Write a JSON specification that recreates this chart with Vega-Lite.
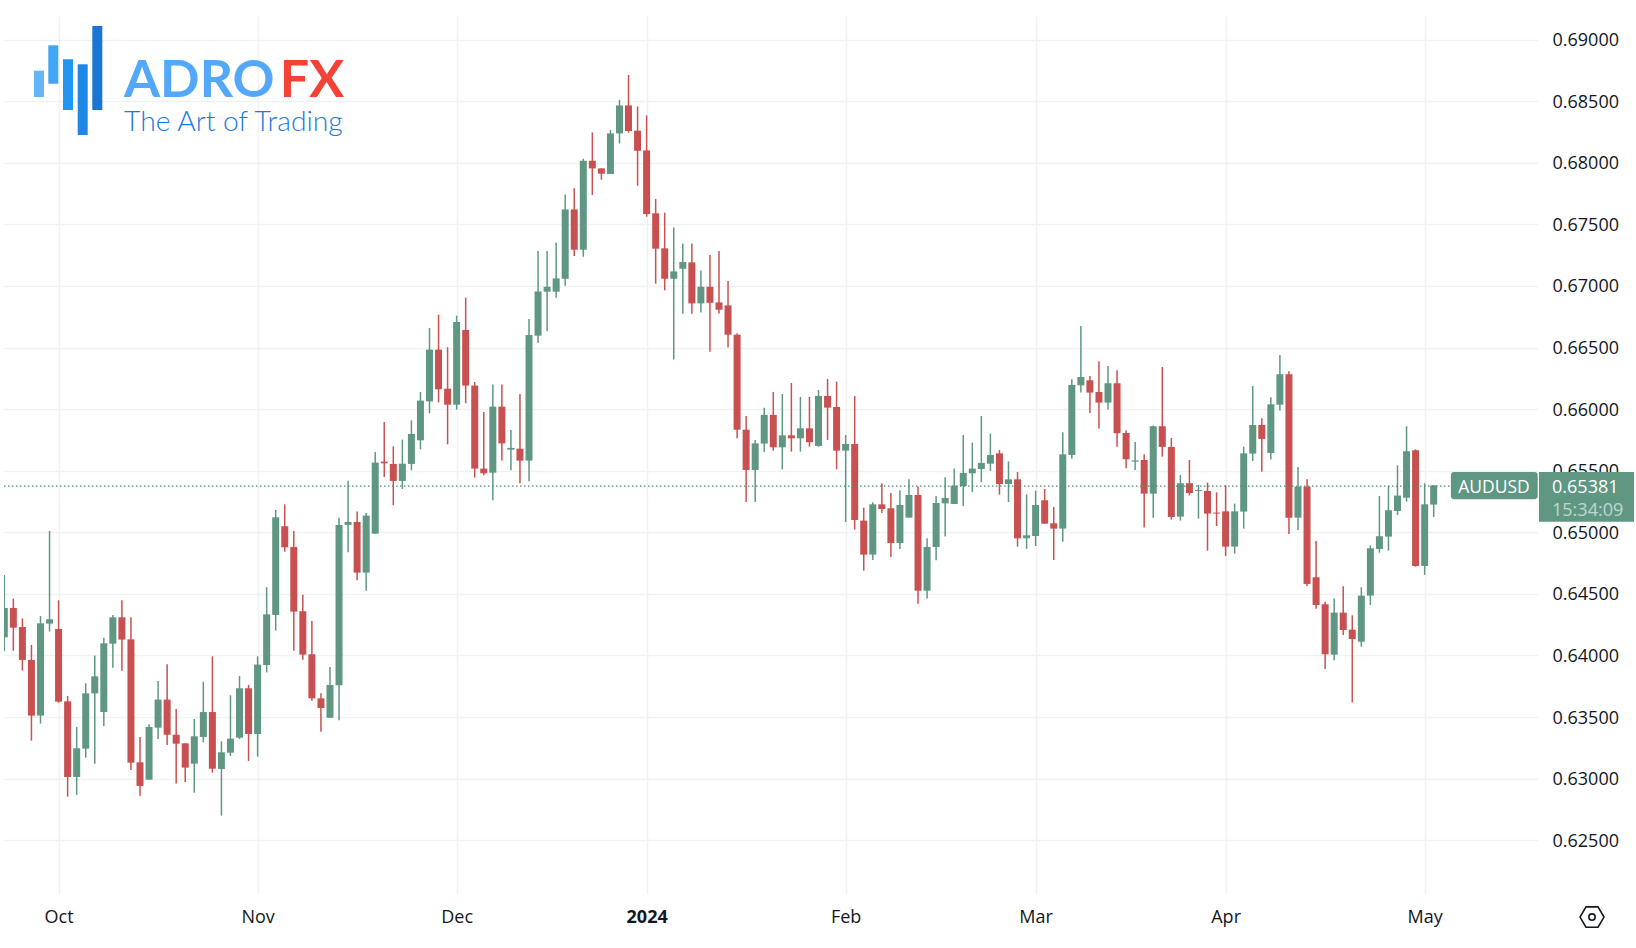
{"$schema":"https://vega.github.io/schema/vega-lite/v6.json","width":1534,"height":878,"autosize":{"type":"none"},"padding":{"left":4,"top":16,"right":98,"bottom":54},"background":"#ffffff","config":{"view":{"stroke":null},"axis":{"title":null,"domain":false,"ticks":false,"gridColor":"#f0f1f3","gridWidth":1.4,"labelFont":"Open Sans","labelFontSize":18,"labelColor":"#131722"}},"datasets":{"candles":[
{"i":0,"date":"2023-09-22","o":0.64148,"h":0.64654,"l":0.64034,"c":0.64386},
{"i":1,"date":"2023-09-25","o":0.64386,"h":0.64462,"l":0.64039,"c":0.64226},
{"i":2,"date":"2023-09-26","o":0.64231,"h":0.64302,"l":0.63877,"c":0.63964},
{"i":3,"date":"2023-09-27","o":0.63964,"h":0.64085,"l":0.63309,"c":0.63512},
{"i":4,"date":"2023-09-28","o":0.63512,"h":0.64321,"l":0.63447,"c":0.64261},
{"i":5,"date":"2023-09-29","o":0.64259,"h":0.65011,"l":0.64194,"c":0.64294},
{"i":6,"date":"2023-10-02","o":0.64215,"h":0.64448,"l":0.63617,"c":0.63625},
{"i":7,"date":"2023-10-03","o":0.63628,"h":0.63671,"l":0.62854,"c":0.63014},
{"i":8,"date":"2023-10-04","o":0.63014,"h":0.6342,"l":0.62868,"c":0.63247},
{"i":9,"date":"2023-10-05","o":0.63244,"h":0.63774,"l":0.63171,"c":0.63693},
{"i":10,"date":"2023-10-06","o":0.63693,"h":0.63999,"l":0.63122,"c":0.63831},
{"i":11,"date":"2023-10-09","o":0.63541,"h":0.64145,"l":0.63428,"c":0.64099},
{"i":12,"date":"2023-10-10","o":0.64096,"h":0.64329,"l":0.63901,"c":0.6431},
{"i":13,"date":"2023-10-11","o":0.6431,"h":0.64448,"l":0.63877,"c":0.64129},
{"i":14,"date":"2023-10-12","o":0.64131,"h":0.6431,"l":0.63071,"c":0.6313},
{"i":15,"date":"2023-10-13","o":0.63133,"h":0.63339,"l":0.62862,"c":0.62941},
{"i":16,"date":"2023-10-16","o":0.62992,"h":0.63441,"l":0.62992,"c":0.6342},
{"i":17,"date":"2023-10-17","o":0.63414,"h":0.63793,"l":0.63322,"c":0.63642},
{"i":18,"date":"2023-10-18","o":0.63642,"h":0.63928,"l":0.63274,"c":0.63357},
{"i":19,"date":"2023-10-19","o":0.63357,"h":0.63566,"l":0.6296,"c":0.63284},
{"i":20,"date":"2023-10-20","o":0.63287,"h":0.63287,"l":0.62973,"c":0.6309},
{"i":21,"date":"2023-10-23","o":0.63122,"h":0.63485,"l":0.62887,"c":0.63344},
{"i":22,"date":"2023-10-24","o":0.63339,"h":0.63788,"l":0.63295,"c":0.63541},
{"i":23,"date":"2023-10-25","o":0.63541,"h":0.63993,"l":0.63049,"c":0.63081},
{"i":24,"date":"2023-10-26","o":0.63079,"h":0.63303,"l":0.627,"c":0.63214},
{"i":25,"date":"2023-10-27","o":0.63211,"h":0.63677,"l":0.63184,"c":0.63325},
{"i":26,"date":"2023-10-30","o":0.63333,"h":0.63834,"l":0.63322,"c":0.63734},
{"i":27,"date":"2023-10-31","o":0.63734,"h":0.63761,"l":0.63144,"c":0.63363},
{"i":28,"date":"2023-11-01","o":0.63363,"h":0.63993,"l":0.63179,"c":0.63926},
{"i":29,"date":"2023-11-02","o":0.63923,"h":0.64554,"l":0.63863,"c":0.64334},
{"i":30,"date":"2023-11-03","o":0.64329,"h":0.65181,"l":0.64202,"c":0.65122},
{"i":31,"date":"2023-11-06","o":0.65049,"h":0.65227,"l":0.64843,"c":0.64878},
{"i":32,"date":"2023-11-07","o":0.64881,"h":0.65011,"l":0.64039,"c":0.64356},
{"i":33,"date":"2023-11-08","o":0.64359,"h":0.64494,"l":0.63966,"c":0.64007},
{"i":34,"date":"2023-11-09","o":0.6401,"h":0.6428,"l":0.63633,"c":0.63652},
{"i":35,"date":"2023-11-10","o":0.63652,"h":0.63693,"l":0.63382,"c":0.63574},
{"i":36,"date":"2023-11-13","o":0.63495,"h":0.63907,"l":0.63495,"c":0.63761},
{"i":37,"date":"2023-11-14","o":0.63758,"h":0.65119,"l":0.63474,"c":0.6506},
{"i":38,"date":"2023-11-15","o":0.6506,"h":0.65419,"l":0.64838,"c":0.65084},
{"i":39,"date":"2023-11-16","o":0.65084,"h":0.65168,"l":0.6461,"c":0.64673},
{"i":40,"date":"2023-11-17","o":0.64673,"h":0.65157,"l":0.64526,"c":0.65135},
{"i":41,"date":"2023-11-20","o":0.64989,"h":0.65652,"l":0.64989,"c":0.65566},
{"i":42,"date":"2023-11-21","o":0.65574,"h":0.65896,"l":0.65449,"c":0.6556},
{"i":43,"date":"2023-11-22","o":0.65555,"h":0.65698,"l":0.65219,"c":0.65417},
{"i":44,"date":"2023-11-23","o":0.65417,"h":0.65752,"l":0.65352,"c":0.65557},
{"i":45,"date":"2023-11-24","o":0.65555,"h":0.65909,"l":0.65503,"c":0.65798},
{"i":46,"date":"2023-11-27","o":0.65747,"h":0.66139,"l":0.65674,"c":0.66069},
{"i":47,"date":"2023-11-28","o":0.66063,"h":0.66659,"l":0.65966,"c":0.66483},
{"i":48,"date":"2023-11-29","o":0.66483,"h":0.66767,"l":0.66055,"c":0.66161},
{"i":49,"date":"2023-11-30","o":0.66166,"h":0.66502,"l":0.65714,"c":0.66036},
{"i":50,"date":"2023-12-01","o":0.66036,"h":0.66759,"l":0.65996,"c":0.66707},
{"i":51,"date":"2023-12-04","o":0.66643,"h":0.66905,"l":0.66047,"c":0.66191},
{"i":52,"date":"2023-12-05","o":0.66191,"h":0.6622,"l":0.65444,"c":0.65517},
{"i":53,"date":"2023-12-06","o":0.65517,"h":0.65977,"l":0.65463,"c":0.65479},
{"i":54,"date":"2023-12-07","o":0.65484,"h":0.66199,"l":0.6526,"c":0.6602},
{"i":55,"date":"2023-12-08","o":0.6602,"h":0.66199,"l":0.65582,"c":0.65722},
{"i":56,"date":"2023-12-11","o":0.65671,"h":0.65831,"l":0.65503,"c":0.65685},
{"i":57,"date":"2023-12-12","o":0.65679,"h":0.66123,"l":0.65398,"c":0.65582},
{"i":58,"date":"2023-12-13","o":0.65582,"h":0.66732,"l":0.65414,"c":0.66602},
{"i":59,"date":"2023-12-14","o":0.66596,"h":0.67283,"l":0.66539,"c":0.66955},
{"i":60,"date":"2023-12-15","o":0.66953,"h":0.67283,"l":0.66633,"c":0.66993},
{"i":61,"date":"2023-12-18","o":0.66953,"h":0.67351,"l":0.66904,"c":0.67061},
{"i":62,"date":"2023-12-19","o":0.67058,"h":0.67743,"l":0.67001,"c":0.67621},
{"i":63,"date":"2023-12-20","o":0.67621,"h":0.67792,"l":0.67242,"c":0.67294},
{"i":64,"date":"2023-12-21","o":0.67294,"h":0.68032,"l":0.67237,"c":0.68016},
{"i":65,"date":"2023-12-22","o":0.68016,"h":0.68246,"l":0.67738,"c":0.67954},
{"i":66,"date":"2023-12-25","o":0.67954,"h":0.67954,"l":0.67862,"c":0.67911},
{"i":67,"date":"2023-12-26","o":0.67908,"h":0.68265,"l":0.67908,"c":0.68238},
{"i":68,"date":"2023-12-27","o":0.68238,"h":0.68511,"l":0.68157,"c":0.68465},
{"i":69,"date":"2023-12-28","o":0.68465,"h":0.68712,"l":0.68244,"c":0.68257},
{"i":70,"date":"2023-12-29","o":0.6826,"h":0.68457,"l":0.67813,"c":0.68097},
{"i":71,"date":"2024-01-02","o":0.681,"h":0.68384,"l":0.67562,"c":0.67583},
{"i":72,"date":"2024-01-03","o":0.67589,"h":0.67705,"l":0.67018,"c":0.67302},
{"i":73,"date":"2024-01-04","o":0.67305,"h":0.67594,"l":0.66964,"c":0.67058},
{"i":74,"date":"2024-01-05","o":0.67058,"h":0.67475,"l":0.66403,"c":0.67118},
{"i":75,"date":"2024-01-08","o":0.67139,"h":0.67345,"l":0.66774,"c":0.67194},
{"i":76,"date":"2024-01-09","o":0.67191,"h":0.67345,"l":0.66774,"c":0.66858},
{"i":77,"date":"2024-01-10","o":0.66858,"h":0.67126,"l":0.66785,"c":0.66993},
{"i":78,"date":"2024-01-11","o":0.66993,"h":0.6725,"l":0.66466,"c":0.66863},
{"i":79,"date":"2024-01-12","o":0.66866,"h":0.67283,"l":0.66777,"c":0.66807},
{"i":80,"date":"2024-01-15","o":0.66842,"h":0.67039,"l":0.66501,"c":0.66604},
{"i":81,"date":"2024-01-16","o":0.66604,"h":0.66615,"l":0.65763,"c":0.65833},
{"i":82,"date":"2024-01-17","o":0.65833,"h":0.65944,"l":0.65246,"c":0.65506},
{"i":83,"date":"2024-01-18","o":0.65506,"h":0.6575,"l":0.65246,"c":0.65722},
{"i":84,"date":"2024-01-19","o":0.6572,"h":0.66012,"l":0.65652,"c":0.65953},
{"i":85,"date":"2024-01-22","o":0.65953,"h":0.66139,"l":0.65663,"c":0.6569},
{"i":86,"date":"2024-01-23","o":0.6569,"h":0.66123,"l":0.65511,"c":0.65787},
{"i":87,"date":"2024-01-24","o":0.65787,"h":0.66212,"l":0.65655,"c":0.65763},
{"i":88,"date":"2024-01-25","o":0.65763,"h":0.66099,"l":0.65655,"c":0.65844},
{"i":89,"date":"2024-01-26","o":0.65844,"h":0.66099,"l":0.65695,"c":0.65731},
{"i":90,"date":"2024-01-29","o":0.65701,"h":0.66155,"l":0.65695,"c":0.66107},
{"i":91,"date":"2024-01-30","o":0.66107,"h":0.66245,"l":0.6575,"c":0.66012},
{"i":92,"date":"2024-01-31","o":0.66017,"h":0.66223,"l":0.65511,"c":0.65663},
{"i":93,"date":"2024-02-01","o":0.65663,"h":0.6579,"l":0.65084,"c":0.65717},
{"i":94,"date":"2024-02-02","o":0.65717,"h":0.66107,"l":0.65022,"c":0.651},
{"i":95,"date":"2024-02-05","o":0.65095,"h":0.652,"l":0.64689,"c":0.64819},
{"i":96,"date":"2024-02-06","o":0.64819,"h":0.65244,"l":0.64775,"c":0.65227},
{"i":97,"date":"2024-02-07","o":0.65227,"h":0.65398,"l":0.65157,"c":0.65189},
{"i":98,"date":"2024-02-08","o":0.65195,"h":0.65319,"l":0.648,"c":0.64913},
{"i":99,"date":"2024-02-09","o":0.64913,"h":0.65341,"l":0.64865,"c":0.65222},
{"i":100,"date":"2024-02-12","o":0.65119,"h":0.6543,"l":0.65119,"c":0.65303},
{"i":101,"date":"2024-02-13","o":0.65303,"h":0.65371,"l":0.64421,"c":0.64526},
{"i":102,"date":"2024-02-14","o":0.64526,"h":0.64951,"l":0.64462,"c":0.64881},
{"i":103,"date":"2024-02-15","o":0.64881,"h":0.65295,"l":0.64773,"c":0.65238},
{"i":104,"date":"2024-02-16","o":0.65235,"h":0.65446,"l":0.64965,"c":0.65279},
{"i":105,"date":"2024-02-19","o":0.6523,"h":0.65517,"l":0.6523,"c":0.65379},
{"i":106,"date":"2024-02-20","o":0.65376,"h":0.6579,"l":0.65214,"c":0.65482},
{"i":107,"date":"2024-02-21","o":0.65479,"h":0.65728,"l":0.65327,"c":0.65517},
{"i":108,"date":"2024-02-22","o":0.65514,"h":0.65944,"l":0.65406,"c":0.65563},
{"i":109,"date":"2024-02-23","o":0.65557,"h":0.65801,"l":0.65498,"c":0.65628},
{"i":110,"date":"2024-02-26","o":0.65641,"h":0.65668,"l":0.65306,"c":0.65392},
{"i":111,"date":"2024-02-27","o":0.65392,"h":0.65576,"l":0.65246,"c":0.6543},
{"i":112,"date":"2024-02-28","o":0.6543,"h":0.6549,"l":0.64884,"c":0.64951},
{"i":113,"date":"2024-02-29","o":0.64951,"h":0.65308,"l":0.64865,"c":0.64976},
{"i":114,"date":"2024-03-01","o":0.6497,"h":0.65338,"l":0.64889,"c":0.65222},
{"i":115,"date":"2024-03-04","o":0.6526,"h":0.65352,"l":0.6507,"c":0.6507},
{"i":116,"date":"2024-03-05","o":0.65073,"h":0.65206,"l":0.64775,"c":0.6503},
{"i":117,"date":"2024-03-06","o":0.6503,"h":0.65812,"l":0.64924,"c":0.65633},
{"i":118,"date":"2024-03-07","o":0.65628,"h":0.66242,"l":0.65598,"c":0.66196},
{"i":119,"date":"2024-03-08","o":0.66193,"h":0.66675,"l":0.66134,"c":0.66261},
{"i":120,"date":"2024-03-11","o":0.66234,"h":0.66269,"l":0.65969,"c":0.66134},
{"i":121,"date":"2024-03-12","o":0.66139,"h":0.66388,"l":0.65842,"c":0.66053},
{"i":122,"date":"2024-03-13","o":0.66053,"h":0.6635,"l":0.65996,"c":0.6621},
{"i":123,"date":"2024-03-14","o":0.6621,"h":0.66315,"l":0.65695,"c":0.65804},
{"i":124,"date":"2024-03-15","o":0.65806,"h":0.65828,"l":0.6552,"c":0.65593},
{"i":125,"date":"2024-03-18","o":0.65574,"h":0.65733,"l":0.65506,"c":0.65584},
{"i":126,"date":"2024-03-19","o":0.65587,"h":0.65633,"l":0.65038,"c":0.65314},
{"i":127,"date":"2024-03-20","o":0.65314,"h":0.65866,"l":0.65119,"c":0.65861},
{"i":128,"date":"2024-03-21","o":0.65861,"h":0.66342,"l":0.65614,"c":0.65693},
{"i":129,"date":"2024-03-22","o":0.65693,"h":0.65766,"l":0.65103,"c":0.65124},
{"i":130,"date":"2024-03-25","o":0.65127,"h":0.65465,"l":0.65095,"c":0.65398},
{"i":131,"date":"2024-03-26","o":0.65398,"h":0.65587,"l":0.653,"c":0.65319},
{"i":132,"date":"2024-03-27","o":0.65336,"h":0.65384,"l":0.65111,"c":0.65344},
{"i":133,"date":"2024-03-28","o":0.65336,"h":0.65403,"l":0.64851,"c":0.65152},
{"i":134,"date":"2024-03-29","o":0.6516,"h":0.65325,"l":0.65051,"c":0.65152},
{"i":135,"date":"2024-04-01","o":0.6517,"h":0.65382,"l":0.64808,"c":0.64884},
{"i":136,"date":"2024-04-02","o":0.64884,"h":0.65233,"l":0.64827,"c":0.6517},
{"i":137,"date":"2024-04-03","o":0.65168,"h":0.65695,"l":0.6503,"c":0.65641},
{"i":138,"date":"2024-04-04","o":0.65639,"h":0.66188,"l":0.65579,"c":0.65871},
{"i":139,"date":"2024-04-05","o":0.65871,"h":0.65925,"l":0.65492,"c":0.65758},
{"i":140,"date":"2024-04-08","o":0.65644,"h":0.66096,"l":0.6559,"c":0.66039},
{"i":141,"date":"2024-04-09","o":0.66036,"h":0.6644,"l":0.65988,"c":0.66283},
{"i":142,"date":"2024-04-10","o":0.66283,"h":0.66307,"l":0.64986,"c":0.65119},
{"i":143,"date":"2024-04-11","o":0.65119,"h":0.6553,"l":0.65016,"c":0.65371},
{"i":144,"date":"2024-04-12","o":0.65371,"h":0.6543,"l":0.64564,"c":0.64581},
{"i":145,"date":"2024-04-15","o":0.64635,"h":0.6493,"l":0.6438,"c":0.6441},
{"i":146,"date":"2024-04-16","o":0.64416,"h":0.64437,"l":0.63891,"c":0.6401},
{"i":147,"date":"2024-04-17","o":0.64007,"h":0.64462,"l":0.63961,"c":0.64348},
{"i":148,"date":"2024-04-18","o":0.64348,"h":0.64562,"l":0.64167,"c":0.64207},
{"i":149,"date":"2024-04-19","o":0.6421,"h":0.64326,"l":0.6362,"c":0.64134},
{"i":150,"date":"2024-04-22","o":0.64112,"h":0.64554,"l":0.64072,"c":0.64486},
{"i":151,"date":"2024-04-23","o":0.64486,"h":0.64894,"l":0.6441,"c":0.6487},
{"i":152,"date":"2024-04-24","o":0.64865,"h":0.65295,"l":0.64835,"c":0.64968},
{"i":153,"date":"2024-04-25","o":0.64965,"h":0.65379,"l":0.64851,"c":0.65179},
{"i":154,"date":"2024-04-26","o":0.65173,"h":0.65544,"l":0.65141,"c":0.65298},
{"i":155,"date":"2024-04-29","o":0.65281,"h":0.65861,"l":0.65249,"c":0.65658},
{"i":156,"date":"2024-04-30","o":0.65666,"h":0.65674,"l":0.64721,"c":0.64727},
{"i":157,"date":"2024-05-01","o":0.64727,"h":0.65398,"l":0.64654,"c":0.65227},
{"i":158,"date":"2024-05-02","o":0.65225,"h":0.65381,"l":0.65124,"c":0.65381}
],"one":[{"symbol":"AUDUSD"}]},"layer":[
{"data":{"name":"candles"},"mark":{"type":"rule","strokeWidth":1.5,"clip":true},"encoding":{"x":{"field":"i","type":"quantitative","scale":{"domain":[-0.033,169.53],"nice":false,"zero":false,"padding":0},"axis":{"title":null,"values":[6,28,50,71,93,114,135,157],"labelExpr":"{6:'Oct',28:'Nov',50:'Dec',71:'2024',93:'Feb',114:'Mar',135:'Apr',157:'May'}[datum.value]","labelFontWeight":{"condition":{"test":"datum.value==71","value":"bold"},"value":"normal"},"labelPadding":14,"labelOverlap":false,"labelFlush":false,"grid":true}},"y":{"field":"l","type":"quantitative","scale":{"domain":[0.62064,0.69191],"nice":false,"zero":false},"axis":{"title":null,"orient":"right","values":[0.625,0.63,0.635,0.64,0.645,0.65,0.655,0.66,0.665,0.67,0.675,0.68,0.685,0.69],"format":".5f","labelPadding":14,"labelOffset":1,"grid":true}},"y2":{"field":"h"},"color":{"condition":{"test":"datum.c>=datum.o","value":"#5f9783"},"value":"#cb5050"}}},
{"data":{"name":"candles"},"mark":{"type":"bar","size":7,"clip":true},"encoding":{"x":{"field":"i","type":"quantitative"},"y":{"field":"o","type":"quantitative"},"y2":{"field":"c"},"color":{"condition":{"test":"datum.c>=datum.o","value":"#5f9783"},"value":"#c85050"}}},
{"data":{"name":"one"},"mark":{"type":"rule","color":"#4f8b75","strokeWidth":1.3,"strokeDash":[1.5,2.5]},"encoding":{"x":{"datum":-0.033,"type":"quantitative"},"x2":{"datum":159.9},"y":{"datum":0.65375,"type":"quantitative"}}},
{"data":{"name":"one"},"mark":{"type":"rect","color":"#5f9783","cornerRadius":3},"encoding":{"x":{"datum":159.9,"type":"quantitative"},"x2":{"datum":169.5},"y":{"datum":0.654894,"type":"quantitative"},"y2":{"datum":0.652679}}},
{"data":{"name":"one"},"mark":{"type":"rect","color":"#5f9783"},"encoding":{"x":{"datum":169.64,"type":"quantitative"},"x2":{"datum":180.14},"y":{"datum":0.654894,"type":"quantitative"},"y2":{"datum":0.65086}}},
{"data":{"name":"one"},"mark":{"type":"text","font":"Open Sans","fontSize":17.5,"color":"#ffffff","align":"center","baseline":"middle","dy":2.5},"encoding":{"text":{"field":"symbol"},"x":{"datum":164.66,"type":"quantitative"},"y":{"datum":0.65381,"type":"quantitative"}}},
{"data":{"name":"one"},"mark":{"type":"text","text":"0.65381","font":"Open Sans","fontSize":18,"color":"#ffffff","align":"left","baseline":"middle","dy":2.5},"encoding":{"x":{"datum":171.08,"type":"quantitative"},"y":{"datum":0.65381,"type":"quantitative"}}},
{"data":{"name":"one"},"mark":{"type":"text","text":"15:34:09","font":"Open Sans","fontSize":18,"color":"#ffffff","opacity":0.6,"align":"left","baseline":"middle","dy":2},"encoding":{"x":{"datum":171.08,"type":"quantitative"},"y":{"datum":0.65189,"type":"quantitative"}}},
{"data":{"name":"one"},"mark":{"type":"point","shape":"M-1,0 L-0.5,-0.85 L0.5,-0.85 L1,0 L0.5,0.85 L-0.5,0.85 Z","size":576,"stroke":"#131722","strokeWidth":1.6,"filled":false,"opacity":1},"encoding":{"x":{"datum":175.5,"type":"quantitative"},"y":{"datum":0.61877,"type":"quantitative"}}},
{"data":{"name":"one"},"mark":{"type":"point","shape":"circle","size":40,"stroke":"#131722","strokeWidth":1.6,"filled":false,"opacity":1},"encoding":{"x":{"datum":175.5,"type":"quantitative"},"y":{"datum":0.61877,"type":"quantitative"}}},
{"data":{"name":"one"},"mark":{"type":"rect","color":"#64b5f6"},"encoding":{"x":{"datum":3.283,"type":"quantitative"},"x2":{"datum":4.389},"y":{"datum":0.68747,"type":"quantitative"},"y2":{"datum":0.68533}}},
{"data":{"name":"one"},"mark":{"type":"rect","color":"#42a5f5"},"encoding":{"x":{"datum":4.863,"type":"quantitative"},"x2":{"datum":5.969},"y":{"datum":0.68953,"type":"quantitative"},"y2":{"datum":0.68641}}},
{"data":{"name":"one"},"mark":{"type":"rect","color":"#2196f3"},"encoding":{"x":{"datum":6.488,"type":"quantitative"},"x2":{"datum":7.594},"y":{"datum":0.68839,"type":"quantitative"},"y2":{"datum":0.68428}}},
{"data":{"name":"one"},"mark":{"type":"rect","color":"#1e88e5"},"encoding":{"x":{"datum":8.113,"type":"quantitative"},"x2":{"datum":9.218},"y":{"datum":0.68799,"type":"quantitative"},"y2":{"datum":0.68225}}},
{"data":{"name":"one"},"mark":{"type":"rect","color":"#1976d2"},"encoding":{"x":{"datum":9.727,"type":"quantitative"},"x2":{"datum":10.832},"y":{"datum":0.6911,"type":"quantitative"},"y2":{"datum":0.68428}}},
{"data":{"name":"one"},"mark":{"type":"text","text":"ADRO","font":"Lato","fontWeight":"bold","fontSize":52,"color":"#54a8fb","align":"left","baseline":"alphabetic"},"encoding":{"x":{"datum":13.23,"type":"quantitative"},"y":{"datum":0.68536,"type":"quantitative"}}},
{"data":{"name":"one"},"mark":{"type":"text","text":"FX","font":"Lato","fontWeight":"bold","fontSize":52,"color":"#f44336","align":"left","baseline":"alphabetic"},"encoding":{"x":{"datum":30.45,"type":"quantitative"},"y":{"datum":0.68536,"type":"quantitative"}}},
{"data":{"name":"one"},"mark":{"type":"text","text":"The Art of Trading","font":"Lato","fontWeight":300,"fontSize":28.3,"color":"#1f78dc","align":"left","baseline":"alphabetic"},"encoding":{"x":{"datum":13.23,"type":"quantitative"},"y":{"datum":0.6826,"type":"quantitative"}}}
]}
